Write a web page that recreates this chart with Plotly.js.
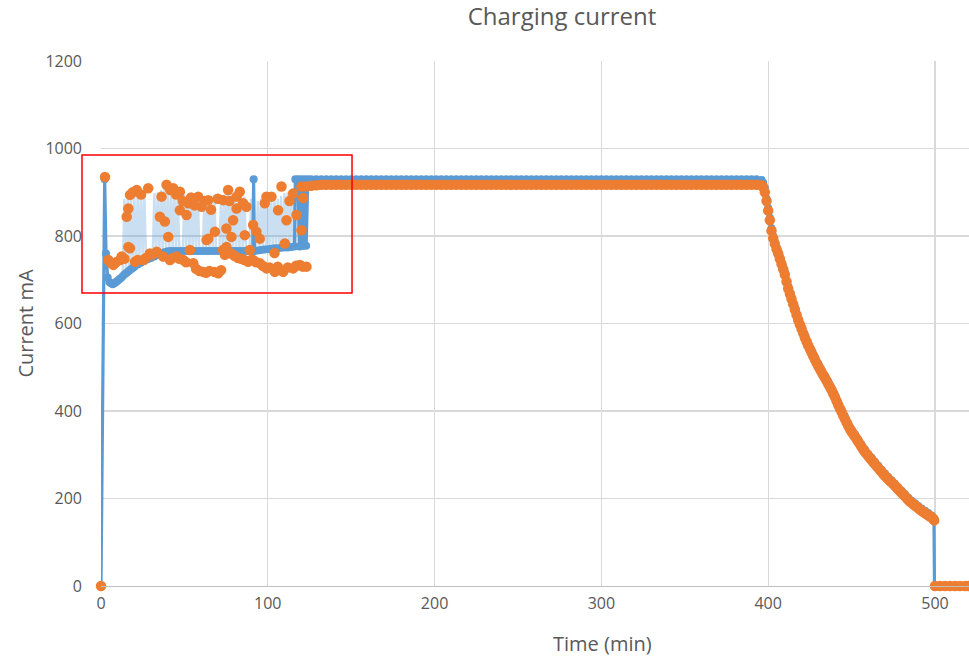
<!DOCTYPE html>
<html>
<head>
<meta charset="utf-8">
<script src="https://cdn.plot.ly/plotly-3.0.1.min.js"></script>
<style>html,body{margin:0;padding:0;background:#fff;}#chart{width:969px;height:664px;}</style>
</head>
<body>
<div id="chart"></div>
<script>
// ---- Data ----
const xTickValues = [0, 100, 200, 300, 400, 500];
const yTickValues = [0, 200, 400, 600, 800, 1000, 1200];

// Blue series (line + markers): main trace
const blueTime = [0, 2.2, 3, 4, 5, 6, 7, 8, 9, 10, 11, 12, 13, 14, 15, 16, 17, 18, 19, 20, 22, 24, 26, 28, 30, 32, 34, 36, 38, 40,
  42, 44, 46, 48, 50, 52, 54, 56, 58, 60, 62, 64, 66, 68, 70, 72, 74, 76, 78, 80, 82, 84, 86, 88, 90, 91, 91.5, 92,
  94, 96, 98, 100, 102, 104, 106, 108, 110, 112, 114, 116, 116.5, 118, 119, 120, 121, 122, 123, 124,
  126, 129, 132, 135, 138, 141, 144, 147, 150, 153, 156, 159, 162, 165, 168, 171, 174, 177, 180, 183, 186, 189, 192, 195, 198,
  201, 204, 207, 210, 213, 216, 219, 222, 225, 228, 231, 234, 237, 240, 243, 246, 249, 252, 255, 258, 261, 264, 267, 270, 273,
  276, 279, 282, 285, 288, 291, 294, 297, 300, 303, 306, 309, 312, 315, 318, 321, 324, 327, 330, 333, 336, 339, 342, 345, 348,
  351, 354, 357, 360, 363, 366, 369, 372, 375, 378, 381, 384, 387, 390, 393, 396,
  397, 398, 399, 400, 401, 402, 403, 404, 405, 406, 407, 408, 409, 410, 412, 414, 416, 418, 420, 422, 424, 426, 428, 430,
  432, 434, 436, 438, 440, 442, 444, 446, 448, 450, 452, 454, 456, 458, 460, 462, 464, 466, 468, 470, 472, 474, 476, 478, 480,
  482, 484, 486, 488, 490, 492, 494, 496, 498, 499.4, 499.7, 502, 505, 508, 511, 514, 517, 519];
const blueCurrent = [0, 930, 760, 705, 695, 692, 690, 692, 695, 698, 701, 704, 708, 712, 715, 718, 721, 724, 727, 730, 735, 739, 743, 747, 750, 753, 757, 760, 763, 765,
  766, 766, 766, 766, 766, 766, 766, 766, 766, 766, 766, 766, 766, 766, 766, 766, 766, 766, 766, 766, 766, 766, 766, 766, 766, 766, 930, 766,
  767, 768, 769, 770, 771, 772, 772, 773, 774, 774, 775, 776, 930, 930, 776, 930, 777, 930, 778, 930,
  930, 930, 930, 930, 930, 930, 930, 930, 930, 930, 930, 930, 930, 930, 930, 930, 930, 930, 930, 930, 930, 930, 930, 930, 930,
  930, 930, 930, 930, 930, 930, 930, 930, 930, 930, 930, 930, 930, 930, 930, 930, 930, 930, 930, 930, 930, 930, 930, 930, 930,
  930, 930, 930, 930, 930, 930, 930, 930, 930, 930, 930, 930, 930, 930, 930, 930, 930, 930, 930, 930, 930, 930, 930, 930, 930,
  930, 930, 930, 930, 930, 930, 930, 930, 930, 930, 930, 930, 930, 930, 930, 928,
  922, 910, 886, 864, 842, 818, 800, 787, 775, 765, 753, 741, 729, 717, 685, 661, 637, 613, 593, 573, 555, 539, 523, 508,
  494, 481, 467, 452, 436, 419, 403, 387, 371, 358, 347, 335, 323, 312, 302, 293, 284, 275, 266, 257, 249, 242, 234, 226, 218,
  210, 202, 195, 189, 183, 177, 172, 167, 161, 152, 0, 0, 0, 0, 0, 0, 0, 0];

// Blue series: rapid up/down switching during the first two hours (light band)
const blueSwitchTime = [13, 14, 15, 16, 17, 18, 19, 20, 21, 22, 23, 24, 25, 26, 27, 28, 29, 30, 31, 32, 33, 34, 35, 36, 37, 38, 39, 40,
  41, 42, 43, 44, 45, 46, 47, 48, 49, 50, 51, 52, 53, 54, 55, 56, 57, 58, 59, 60, 61, 62, 63, 64, 65, 66, 67, 68, 69, 70,
  71, 72, 73, 74, 75, 76, 77, 78, 79, 80, 81, 82, 83, 84, 85, 86, 87, 88, 89, 90, 91, 92, 93, 94, 95, 96, 97, 98, 99, 100,
  101, 102, 103, 104, 105, 106, 107, 108, 109, 110, 111, 112, 113, 114, 115, 116, 117, 118, 119, 120, 121, 122, 123];
const blueSwitchCurrent = [712, 885, 718, 890, 722, 893, 726, 895, 730, 900, 735, 905, 738, 902, 742, 745, 748, 750, 752, 898, 755, 900, 758, 905, 762, 910, 764, 908,
  765, 905, 765, 900, 765, 898, 765, 765, 765, 895, 765, 890, 765, 888, 765, 892, 765, 896, 765, 765, 765, 890, 765, 885, 765, 890, 765, 894, 765, 765,
  765, 885, 765, 895, 765, 900, 765, 898, 765, 892, 765, 888, 765, 895, 765, 890, 765, 765, 765, 885, 765, 765, 768, 880, 768, 885, 768, 890, 770, 895,
  770, 892, 770, 888, 772, 885, 772, 892, 772, 898, 774, 900, 774, 895, 775, 900, 775, 905, 775, 910, 775, 905, 775];

// Orange series (markers only)
const orangeTime = [0, 2.4,
  15.4, 16.4, 17.4, 19, 21.4, 24, 28.3, 35.3, 36.3, 38.3, 39.3, 40.3, 41.5, 43.3, 45, 47.3, 47.3, 49, 51.3, 52.3, 54, 56, 58.3, 60.3,
  62, 64.3, 63.3, 64.3, 66, 68.3, 70, 73.2, 75.2, 76.2, 77, 79.2, 78.2, 75.2, 73.2, 81.3, 81.3, 83.2, 85.2, 86.2, 87.2, 89.2, 91.2,
  93.2, 95.2, 98.2, 99.2, 102.2, 104, 106.2, 108.2, 110.2, 111.2, 113, 115.2, 117.2, 120.2, 120.2, 121.2, 16.4, 17.4,
  4.4, 6, 7.4, 9, 11.4, 12.4, 14, 20.4, 22, 25.3, 27, 29.3, 31, 33.4, 37.3, 41.3, 43, 45.3, 47, 49.3, 51, 53.3, 55.3, 57, 59,
  61.3, 63, 65, 68, 70.3, 72, 74.3, 78, 80, 82, 84, 86, 88.2, 90, 91.2, 93, 95.2, 97, 99.2, 101, 104.2, 106, 109.2, 112, 115.2, 117, 119.2, 121, 123.2,
  123, 126, 129, 132, 135, 138, 141, 144, 147, 150, 153, 156, 159, 162, 165, 168, 171, 174, 177, 180, 183, 186, 189, 192, 195, 198,
  201, 204, 207, 210, 213, 216, 219, 222, 225, 228, 231, 234, 237, 240, 243, 246, 249, 252, 255, 258, 261, 264, 267, 270, 273,
  276, 279, 282, 285, 288, 291, 294, 297, 300, 303, 306, 309, 312, 315, 318, 321, 324, 327, 330, 333, 336, 339, 342, 345, 348,
  351, 354, 357, 360, 363, 366, 369, 372, 375, 378, 381, 384, 387, 390, 393,
  396, 397, 398, 399, 400, 401, 402, 403, 404, 405, 406, 407, 408, 409, 410, 411, 412, 413, 414, 415, 416, 417, 418, 419, 420,
  421, 422, 423, 424, 425, 426, 427, 428, 429, 430, 431, 432, 433, 434, 435, 436, 437, 438, 439, 440, 441, 442, 443, 444, 445,
  446, 447, 448, 449, 450, 451, 452, 453, 454, 455, 456, 457, 458, 459, 460, 461, 462, 463, 464, 465, 466, 467, 468, 469, 470,
  471, 472, 473, 474, 475, 476, 477, 478, 479, 480, 481, 482, 483, 484, 485, 486, 487, 488, 489, 490, 491, 492, 493, 494, 495,
  496, 497, 498, 499, 499.5, 500, 503, 506, 509, 512, 515, 518, 520];
const orangeCurrent = [0, 935,
  844, 863, 894, 900, 905, 895, 909, 844, 890, 833, 917, 798, 905, 909, 895, 901, 859, 880, 848, 875, 888, 870, 890, 867,
  880, 882, 791, 794, 860, 810, 885, 882, 817, 905, 880, 836, 798, 775, 768, 890, 863, 901, 875, 802, 867, 768, 825,
  810, 794, 875, 890, 890, 761, 859, 913, 783, 836, 880, 897, 848, 813, 913, 887, 775, 772,
  745, 738, 734, 740, 745, 753, 748, 741, 745, 745, 750, 760, 758, 764, 753, 745, 750, 753, 748, 745, 740, 768, 738, 725, 720,
  718, 716, 720, 718, 715, 722, 757, 760, 755, 750, 748, 745, 741, 745, 745, 740, 738, 732, 726, 728, 718, 730, 718, 728, 726, 732, 734, 730, 730,
  913, 915, 916, 917, 917, 917, 917, 917, 917, 917, 917, 917, 917, 917, 917, 917, 917, 917, 917, 917, 917, 917, 917, 917, 917, 917,
  917, 917, 917, 917, 917, 917, 917, 917, 917, 917, 917, 917, 917, 917, 917, 917, 917, 917, 917, 917, 917, 917, 917, 917, 917,
  917, 917, 917, 917, 917, 917, 917, 917, 917, 917, 917, 917, 917, 917, 917, 917, 917, 917, 917, 917, 917, 917, 917, 917, 917,
  917, 917, 917, 917, 917, 917, 917, 917, 917, 917, 917, 917, 917, 917, 917,
  916, 912, 900, 880, 858, 836, 812, 795, 782, 770, 760, 748, 736, 724, 712, 696, 680, 668, 656, 644, 632, 620, 608, 598, 588,
  578, 568, 559, 550, 542, 534, 526, 518, 510, 503, 496, 489, 482, 476, 469, 462, 455, 448, 440, 432, 423, 414, 406, 398, 390,
  382, 374, 366, 359, 353, 347, 342, 336, 330, 324, 318, 312, 307, 302, 297, 292, 288, 283, 279, 274, 270, 265, 261, 256, 252,
  248, 244, 240, 237, 233, 229, 225, 221, 217, 213, 209, 205, 201, 197, 193, 190, 187, 184, 181, 178, 175, 172, 169, 167, 164,
  162, 159, 157, 154, 150, 0, 0, 0, 0, 0, 0, 0, 0];

// ---- Chart ----
const BLUE = '#5B9BD5';
const ORANGE = '#ED7D31';
const TEXT = '#595959';
const FONT = 'Open Sans, Liberation Sans, sans-serif';

const traces = [
  {
    type: 'scatter', mode: 'lines', x: blueSwitchTime, y: blueSwitchCurrent,
    line: {color: 'rgba(91,155,213,0.32)', width: 2.4}, hoverinfo: 'skip', showlegend: false
  },
  {
    type: 'scatter', mode: 'lines+markers', x: blueTime, y: blueCurrent, cliponaxis: false,
    line: {color: BLUE, width: 3.2}, marker: {color: BLUE, size: 8}, showlegend: false
  },
  {
    type: 'scatter', mode: 'markers', x: orangeTime, y: orangeCurrent, cliponaxis: false,
    marker: {color: ORANGE, size: 10.5}, showlegend: false
  }
];

const layout = {
  width: 969, height: 664,
  margin: {l: 101, r: 0, t: 61, b: 78, pad: 0},
  paper_bgcolor: '#ffffff', plot_bgcolor: '#ffffff',
  font: {family: FONT, color: TEXT, size: 16},
  title: {
    text: 'Charging current', font: {family: FONT, size: 24, color: TEXT},
    xref: 'container', x: 0.58, xanchor: 'center', yref: 'container', y: 0.975, yanchor: 'middle'
  },
  xaxis: {
    range: [0, 520.4], tickvals: xTickValues, ticktext: xTickValues.map(String),
    showgrid: true, gridcolor: '#d9d9d9', gridwidth: 1.2, zeroline: false,
    showline: true, linecolor: '#bfbfbf', linewidth: 1.2, ticks: '',
    tickfont: {family: FONT, size: 16, color: TEXT}, ticklabelstandoff: 3, fixedrange: true
  },
  yaxis: {
    range: [0, 1200], tickvals: yTickValues, ticktext: yTickValues.map(String),
    showgrid: true, gridcolor: '#d9d9d9', gridwidth: 1.2, zeroline: false, showline: false, ticks: '',
    tickfont: {family: FONT, size: 16, color: TEXT}, ticklabelstandoff: 18,
    title: {text: 'Current mA', font: {family: FONT, size: 20, color: TEXT}, standoff: 6}, fixedrange: true
  },
  annotations: [
    {
      text: 'Time (min)', xref: 'paper', yref: 'paper', x: 0.578, y: -0.08, xanchor: 'center', yanchor: 'top',
      showarrow: false, font: {family: FONT, size: 20, color: TEXT}
    }
  ],
  shapes: [
    {type: 'rect', xref: 'paper', yref: 'paper', x0: -0.0219, x1: 0.2892, y0: 0.558, y1: 0.821, line: {color: '#ff0000', width: 1.5}, fillcolor: 'rgba(0,0,0,0)', layer: 'above'}
  ]
};

Plotly.newPlot('chart', traces, layout, {displayModeBar: false, staticPlot: true});
</script>
</body>
</html>
